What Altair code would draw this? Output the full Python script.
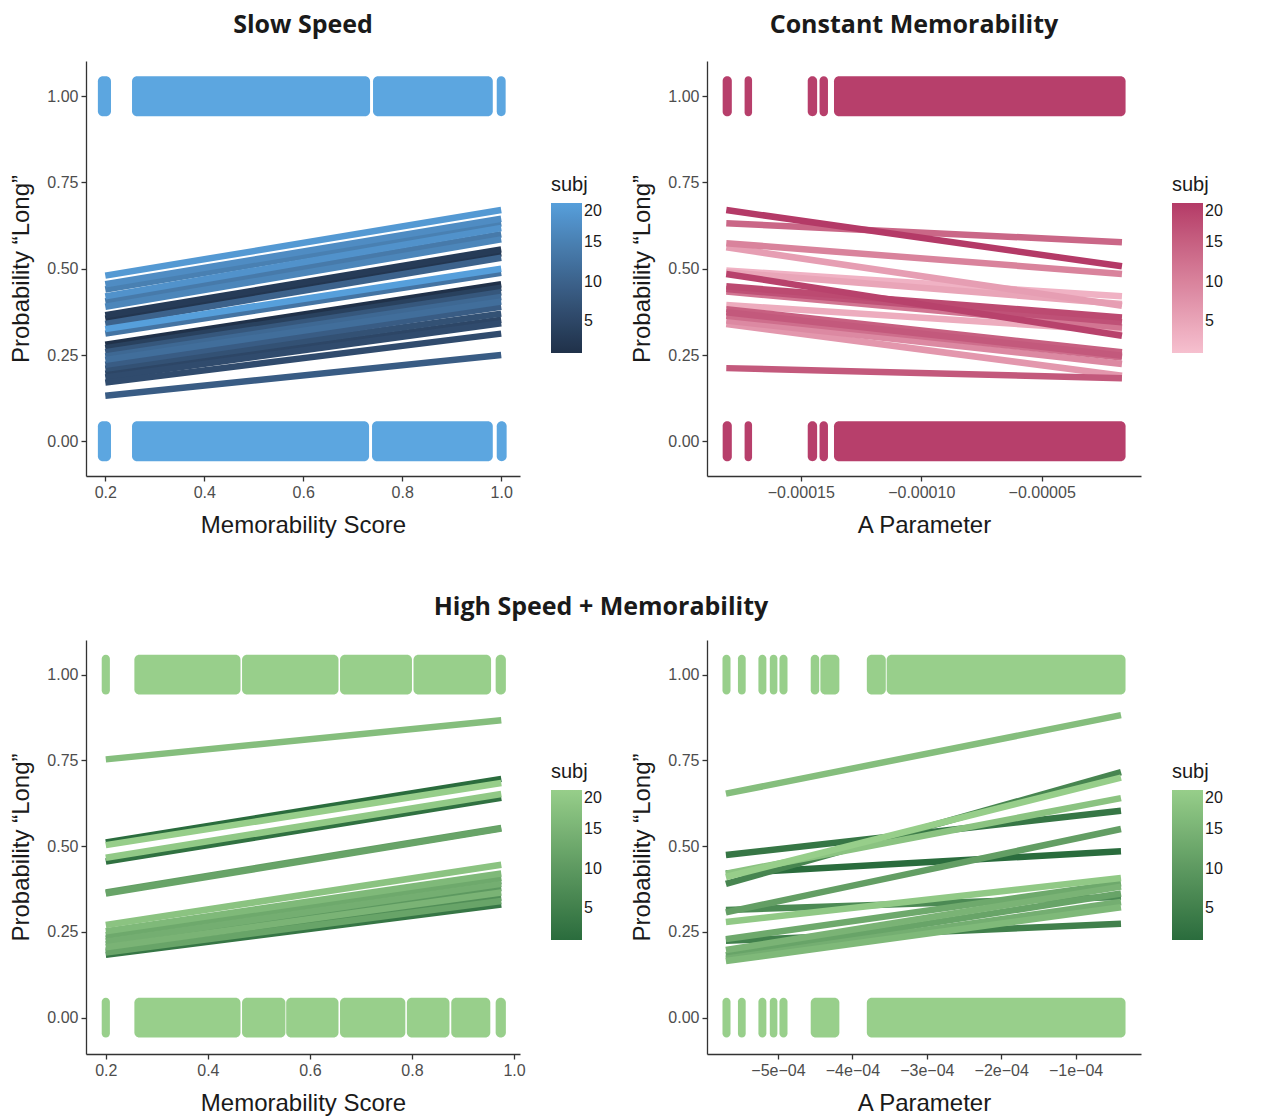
import altair as alt
import pandas as pd

# ---------------- data ----------------
# Slow Speed (blue): fitted lines from x=0.2 to x=1.0
tl_subj  = [19, 17, 15, 18, 14, 16, 3, 2, 10, 20, 13, 1, 4, 8, 11, 12, 9, 7, 5, 6, 6, 9]
tl_start = [0.48, 0.455, 0.44, 0.42, 0.405, 0.39, 0.365, 0.355, 0.34, 0.325, 0.312, 0.28, 0.27,
            0.258, 0.246, 0.236, 0.222, 0.21, 0.196, 0.185, 0.17, 0.132]
tl_end   = [0.67, 0.645, 0.632, 0.618, 0.60, 0.585, 0.556, 0.545, 0.532, 0.50, 0.488, 0.455, 0.445,
            0.432, 0.418, 0.405, 0.39, 0.37, 0.352, 0.342, 0.312, 0.25]
tl_xrange = [0.2, 1.0]
tl_band_top = [(0.185, 0.2115), (0.254, 0.735), (0.741, 0.983), (0.991, 1.009)]
tl_band_bot = [(0.185, 0.2115), (0.254, 0.733), (0.739, 0.983), (0.991, 1.011)]

# Constant Memorability (pink)
tr_subj  = [20, 14, 10, 6, 3, 5, 19, 18, 17, 12, 4, 15, 16, 13, 9, 7, 16]
tr_start = [0.670, 0.632, 0.574, 0.562, 0.495, 0.49, 0.485, 0.449, 0.441, 0.434, 0.395, 0.383,
            0.374, 0.364, 0.35, 0.34, 0.212]
tr_end   = [0.507, 0.577, 0.485, 0.393, 0.42, 0.398, 0.306, 0.359, 0.345, 0.33, 0.32, 0.258,
            0.248, 0.243, 0.224, 0.19, 0.183]
tr_xrange = [-0.0001809, -0.0000167]
tr_band_top = [(-0.0001824, -0.0001786), (-0.0001733, -0.0001702), (-0.0001471, -0.0001432),
               (-0.0001422, -0.0001387), (-0.0001362, -0.0000152)]
tr_band_bot = tr_band_top

# High Speed + Memorability, left (green)
bl_subj  = [17, 1, 20, 2, 19, 11, 12, 18, 16, 13, 9, 14, 10, 15, 12, 8, 3]
bl_start = [0.753, 0.511, 0.503, 0.455, 0.466, 0.365, 0.362, 0.27, 0.252, 0.24, 0.23, 0.222,
            0.213, 0.205, 0.19, 0.195, 0.183]
bl_end   = [0.867, 0.696, 0.684, 0.641, 0.652, 0.553, 0.551, 0.446, 0.42, 0.408, 0.398, 0.39,
            0.378, 0.365, 0.34, 0.35, 0.33]
bl_xrange = [0.2, 0.975]
bl_band_top = [(0.192, 0.208), (0.256, 0.464), (0.467, 0.656), (0.659, 0.80), (0.803, 0.955),
               (0.964, 0.984)]
bl_band_bot = [(0.192, 0.208), (0.256, 0.464), (0.467, 0.552), (0.5535, 0.656), (0.659, 0.787),
               (0.790, 0.8735), (0.877, 0.9535), (0.964, 0.984)]

# High Speed + Memorability, right (green)
br_subj  = [1, 3, 5, 6, 7, 11, 12, 13, 14, 15, 16, 17, 18, 19, 20]
br_start = [0.42, 0.474, 0.224, 0.39, 0.314, 0.307, 0.182, 0.229, 0.172, 0.197, 0.165, 0.653,
            0.42, 0.279, 0.41]
br_end   = [0.485, 0.603, 0.274, 0.716, 0.352, 0.55, 0.362, 0.392, 0.337, 0.382, 0.322, 0.882,
            0.64, 0.407, 0.70]
br_xrange = [-5.70e-4, -0.39e-4]
br_band_top = [(-5.746e-4, -5.638e-4), (-5.538e-4, -5.434e-4), (-5.263e-4, -5.156e-4),
               (-5.11e-4, -5.008e-4), (-4.98e-4, -4.872e-4), (-4.56e-4, -4.446e-4),
               (-4.43e-4, -4.175e-4), (-3.806e-4, -3.551e-4), (-3.539e-4, -0.329e-4)]
br_band_bot = [(-5.746e-4, -5.638e-4), (-5.538e-4, -5.434e-4), (-5.263e-4, -5.156e-4),
               (-5.11e-4, -5.008e-4), (-4.98e-4, -4.872e-4), (-4.56e-4, -4.175e-4),
               (-3.806e-4, -0.329e-4)]

legend_values = [5, 10, 15, 20]
y_ticks = [0, 0.25, 0.5, 0.75, 1.0]
JIT = 0.058  # half height of jittered point bands

LABEL_FONT = "Liberation Sans"
TITLE_FONT = "Open Sans"


def line_df(subj, start, end, xr):
    rows = []
    for i, (s, a, b) in enumerate(zip(subj, start, end)):
        rows.append({"id": i, "subj": s, "x": xr[0], "p": a})
        rows.append({"id": i, "subj": s, "x": xr[1], "p": b})
    df = pd.DataFrame(rows)
    return df.sort_values(["subj", "id", "x"], kind="stable").reset_index(drop=True)


def band_df(top, bot):
    rows = []
    for a, b in top:
        rows.append({"x1": a, "x2": b, "y1": 1 - JIT, "y2": 1 + JIT})
    for a, b in bot:
        rows.append({"x1": a, "x2": b, "y1": -JIT, "y2": JIT})
    return pd.DataFrame(rows)


def panel(lines, bands, xdom, ydom, xvals, xlabel_expr, xtitle, crange, band_color,
          w, h, leg_y, title=None, title_dx=0, title_offset=23):
    xscale = alt.Scale(domain=xdom, nice=False, zero=False)
    yscale = alt.Scale(domain=ydom, nice=False, zero=False)
    xaxis = alt.Axis(values=xvals, labelExpr=xlabel_expr, title=xtitle)
    yaxis = alt.Axis(values=y_ticks, format=".2f", title="Probability \u201cLong\u201d")
    b = alt.Chart(bands).mark_rect(cornerRadius=5, color=band_color).encode(
        x=alt.X("x1:Q", scale=xscale, axis=xaxis),
        x2="x2:Q",
        y=alt.Y("y1:Q", scale=yscale, axis=yaxis),
        y2="y2:Q",
    )
    l = alt.Chart(lines).mark_line(strokeWidth=6.5, strokeCap="butt").encode(
        x=alt.X("x:Q", scale=xscale),
        y=alt.Y("p:Q", scale=yscale),
        color=alt.Color(
            "subj:Q",
            scale=alt.Scale(domain=[1, 20], range=crange),
            legend=alt.Legend(title="subj", orient="none", legendX=w + 31, legendY=leg_y,
                              values=legend_values, direction="vertical",
                              gradientLength=150, gradientThickness=31),
        ),
        detail="id:N",
        order=alt.Order("subj:Q"),
    )
    props = dict(width=w, height=h)
    if title is not None:
        props["title"] = alt.TitleParams(title, fontSize=25, fontWeight="bold",
                                         font=TITLE_FONT, color="#1a1a1a",
                                         anchor="middle", offset=title_offset, dx=title_dx)
    return alt.layer(b, l).properties(**props)


BLUE = ["#203149", "#569FDB"]
PINK = ["#F6C0CF", "#B43A67"]
GREEN = ["#2A6C3D", "#97CE8A"]

W = 434
TOPH, BOTH = 415, 414
ytop = [-0.1006, 1.102]
ybot = [-0.106, 1.101]

p1 = panel(line_df(tl_subj, tl_start, tl_end, tl_xrange), band_df(tl_band_top, tl_band_bot),
           [0.161, 1.038], ytop, [0.2, 0.4, 0.6, 0.8, 1.0], "format(datum.value, '.1f')",
           "Memorability Score", BLUE, "#5CA6E0", W, TOPH, 114, "Slow Speed")
p2 = panel(line_df(tr_subj, tr_start, tr_end, tr_xrange), band_df(tr_band_top, tr_band_bot),
           [-0.0001889, -0.0000088], ytop, [-0.00015, -0.0001, -0.00005],
           "'\u2212' + format(-datum.value, '.5f')",
           "A Parameter", PINK, "#B73F6B", W, TOPH, 114, "Constant Memorability", -10)
p3 = panel(line_df(bl_subj, bl_start, bl_end, bl_xrange), band_df(bl_band_top, bl_band_bot),
           [0.1612, 1.0117], ybot, [0.2, 0.4, 0.6, 0.8, 1.0], "format(datum.value, '.1f')",
           "Memorability Score", GREEN, "#98CF8B", W, BOTH, 122,
           "High Speed + Memorability", 298, 20)
p4 = panel(line_df(br_subj, br_start, br_end, br_xrange), band_df(br_band_top, br_band_bot),
           [-5.954e-4, -0.121e-4], ybot, [-5e-4, -4e-4, -3e-4, -2e-4, -1e-4],
           "'\u2212' + format(-datum.value * 10000, '.0f') + 'e\u221204'",
           "A Parameter", GREEN, "#98CF8B", W, BOTH, 122)

chart = alt.concat(
    p1, p2, p3, p4, columns=2, spacing={"row": 164, "column": 187}, bounds="flush"
).resolve_scale(
    color="independent", x="independent", y="independent"
).properties(
    padding={"left": 9, "top": 13, "right": 5, "bottom": 5},
    background="white",
).configure_view(stroke=None).configure_axis(
    grid=False,
    domainColor="#333333",
    domainWidth=1.3,
    tickColor="#333333",
    tickWidth=1.3,
    tickSize=5,
    labelFont=LABEL_FONT,
    labelFontSize=16,
    labelColor="#4D4D4D",
    labelPadding=3,
    titleFont=LABEL_FONT,
    titleFontSize=24,
    titleFontWeight="normal",
    titleColor="#1a1a1a",
    titlePadding=13,
).configure_legend(
    titleFont=LABEL_FONT,
    titleFontSize=20,
    titleFontWeight="normal",
    titleColor="#1a1a1a",
    labelFont=LABEL_FONT,
    labelFontSize=16,
    labelColor="#1a1a1a",
    labelOffset=10,
    titlePadding=8,
    gradientStrokeWidth=0,
)

chart.save("out.html", embed_options={"renderer": "svg", "actions": False})
